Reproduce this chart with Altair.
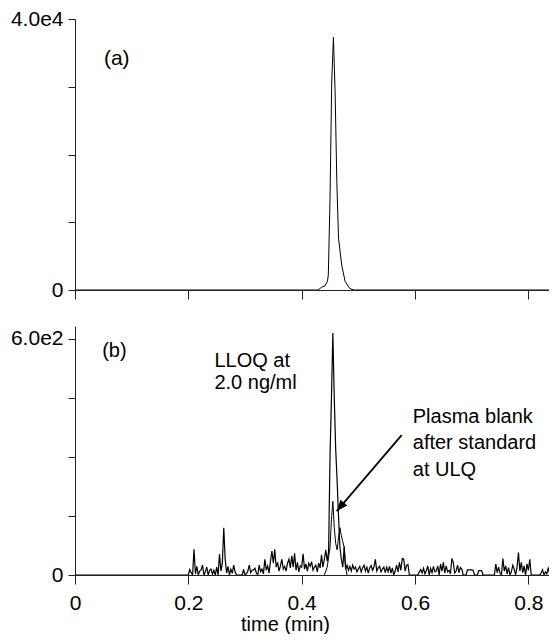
import altair as alt
import pandas as pd

# ---------------- data ----------------
# (a) upper trace: time (min) / intensity
top_t = [0.0, 0.425, 0.429, 0.435, 0.441, 0.4455, 0.447, 0.450, 0.453, 0.456,
         0.459, 0.462, 0.465, 0.4706, 0.4765, 0.485, 0.4925, 0.85]
top_v = [0, 0, 0, 400, 600, 1300, 2250, 13500, 30700, 37300,
         29200, 16000, 7650, 3700, 1300, 200, 0, 0]

# (b) LLOQ trace, sampled every 0.0025 min from 0.2 to 0.85 (flat 0 before 0.2)
lloq_start = 0.2
lloq_step = 0.0025
lloq_v = [
    0, 14, 6, 0, 65, 3, 22, 0, 10, 13, 25, 0, 8, 20, 0, 12, 15, 2, 12, 0,
    20, 0, 53, 10, 30, 120, 40, 5, 22, 0, 15, 4, 25, 8, 0, 0, 0, 0, 0, 14,
    0, 3, 10, 25, 6, 12, 13, 17, 5, 0, 25, 8, 15, 3, 40, 12, 23, 5, 36, 61,
    30, 65, 20, 32, 10, 23, 40, 15, 22, 10, 30, 40, 18, 49, 20, 55, 12, 32, 8, 23,
    20, 54, 15, 28, 10, 30, 22, 34, 12, 20, 25, 8, 30, 18, 51, 20, 40, 64, 35, 60,
    300, 450, 614, 450, 320, 240, 150, 70, 40, 20, 72, 15, 25, 12, 22, 10, 25, 15, 20, 8,
    15, 22, 8, 18, 25, 10, 20, 5, 18, 24, 12, 20, 40, 10, 18, 22, 8, 15, 20, 6,
    20, 8, 22, 5, 18, 0, 10, 25, 8, 32, 12, 42, 40, 10, 25, 27, 0, 0, 0, 0,
    0, 0, 0, 8, 14, 5, 17, 3, 11, 23, 0, 17, 6, 22, 8, 10, 23, 0, 28, 10,
    32, 5, 23, 8, 12, 3, 42, 32, 5, 10, 25, 6, 19, 15, 0, 0, 0, 13, 13, 13,
    13, 12, 0, 0, 0, 11, 11, 11, 0, 0, 0, 0, 0, 0, 0, 0, 0, 28, 6, 20,
    5, 0, 42, 10, 23, 3, 19, 0, 8, 25, 15, 0, 20, 57, 10, 32, 6, 23, 0, 28,
    12, 40, 0, 0, 0, 0, 0, 0, 0, 5, 13, 0, 8, 3, 17, 5, 23, 10, 18, 40, 23,
]

# (b) plasma blank after standard at ULQ
blank_t = [0.44, 0.445, 0.4475, 0.45, 0.4525, 0.455, 0.4575, 0.46, 0.4625,
           0.465, 0.4675, 0.47, 0.4725, 0.475, 0.4775, 0.48]
blank_v = [0, 20, 45, 70, 140, 187, 120, 80, 64, 95, 120, 100, 85, 70, 20, 0]

x_ticks = [0, 0.2, 0.4, 0.6, 0.8]
top_y_ticks = [0, 10000, 20000, 30000, 40000]
bot_y_ticks = [0, 150, 300, 450, 600]

# annotations
ann_a = pd.DataFrame({"t": [0.051], "v": [34100], "label": ["(a)"]})
ann_b = pd.DataFrame({
    "t": [0.048, 0.246, 0.246, 0.596, 0.596, 0.596],
    "v": [569, 543, 487, 402, 334, 266],
    "label": ["(b)", "LLOQ at", "2.0 ng/ml", "Plasma blank", "after standard", "at ULQ"],
})
arrow = pd.DataFrame({"t": [0.5764], "v": [355], "t2": [0.4618], "v2": [162]})
arrow_head = pd.DataFrame({"t": [0.4618], "v": [162]})

# ---------------- frames ----------------
df_top = pd.DataFrame({"t": top_t, "v": top_v})
lloq_t = [0.0] + [round(lloq_start + i * lloq_step, 4) for i in range(len(lloq_v))]
df_lloq = pd.DataFrame({"t": lloq_t, "v": [0] + lloq_v})
df_blank = pd.DataFrame({"t": blank_t, "v": blank_v})

FONT = "Liberation Sans"
FS = 21
FS_ANN = 20

PW = 474
x_scale = alt.Scale(domain=[0, 0.8364], nice=False, zero=False)

def y_label_expr(top_val, top_txt):
    return f"datum.value == 0 ? '0' : (datum.value == {top_val} ? '{top_txt}' : '')"

x_top = alt.X("t:Q", scale=x_scale,
              axis=alt.Axis(values=x_ticks, labels=False, title=None, tickSize=9,
                            grid=False))
y_top = alt.Y("v:Q", scale=alt.Scale(domain=[0, 40000], nice=False),
              axis=alt.Axis(values=top_y_ticks, labelExpr=y_label_expr(40000, "4.0e4"),
                            title=None, tickSize=7, labelPadding=5, grid=False))

x_bot = alt.X("t:Q", scale=x_scale,
              axis=alt.Axis(values=x_ticks, title="time (min)", tickSize=9,
                            labelPadding=8, labelFlush=False,
                            labelExpr="datum.value == 0 ? '0' : format(datum.value, '.1f')",
                            titleX=210, titlePadding=1, titleFontSize=20, grid=False))
y_bot = alt.Y("v:Q", scale=alt.Scale(domain=[0, 632], nice=False),
              axis=alt.Axis(values=bot_y_ticks, labelExpr=y_label_expr(600, "6.0e2"),
                            title=None, tickSize=7, labelPadding=5, grid=False))

top_line = alt.Chart(df_top).mark_line(color="black", strokeWidth=1, clip=True).encode(x=x_top, y=y_top)
top_text = alt.Chart(ann_a).mark_text(align="left", baseline="middle", font=FONT,
                                      fontSize=FS, color="black").encode(x=x_top, y=y_top, text="label:N")
top = alt.layer(top_line, top_text).properties(width=PW, height=271)

lloq_line = alt.Chart(df_lloq).mark_line(color="black", strokeWidth=1.2, clip=True).encode(x=x_bot, y=y_bot)
blank_line = alt.Chart(df_blank).mark_line(color="black", strokeWidth=1).encode(x=x_bot, y=y_bot)
bot_text = alt.Chart(ann_b).mark_text(align="left", baseline="middle", font=FONT,
                                      fontSize=FS_ANN, color="black").encode(x=x_bot, y=y_bot, text="label:N")
arrow_line = alt.Chart(arrow).mark_rule(color="black", strokeWidth=1.8).encode(
    x=x_bot, y=y_bot, x2="t2:Q", y2="v2:Q")
arrow_tip = alt.Chart(arrow_head).mark_point(
    shape="M0,0L-0.4,1L0.4,1Z", filled=True, size=500, angle=220,
    color="black", opacity=1).encode(x=x_bot, y=y_bot)
bottom = alt.layer(lloq_line, blank_line, arrow_line, arrow_tip, bot_text).properties(width=PW, height=249)

chart = alt.vconcat(top, bottom, spacing=26).properties(
    padding={"left": 2, "top": 0, "right": 0, "bottom": 0}
).configure_view(stroke=None).configure_axis(
    domainColor="#222", tickColor="#222", labelColor="black", titleColor="black",
    labelFont=FONT, titleFont=FONT, labelFontSize=FS, titleFontSize=FS,
    titleFontWeight="normal", domainWidth=1, tickWidth=1,
)

chart.save("out.html", embed_options={"renderer": "svg", "actions": False})
